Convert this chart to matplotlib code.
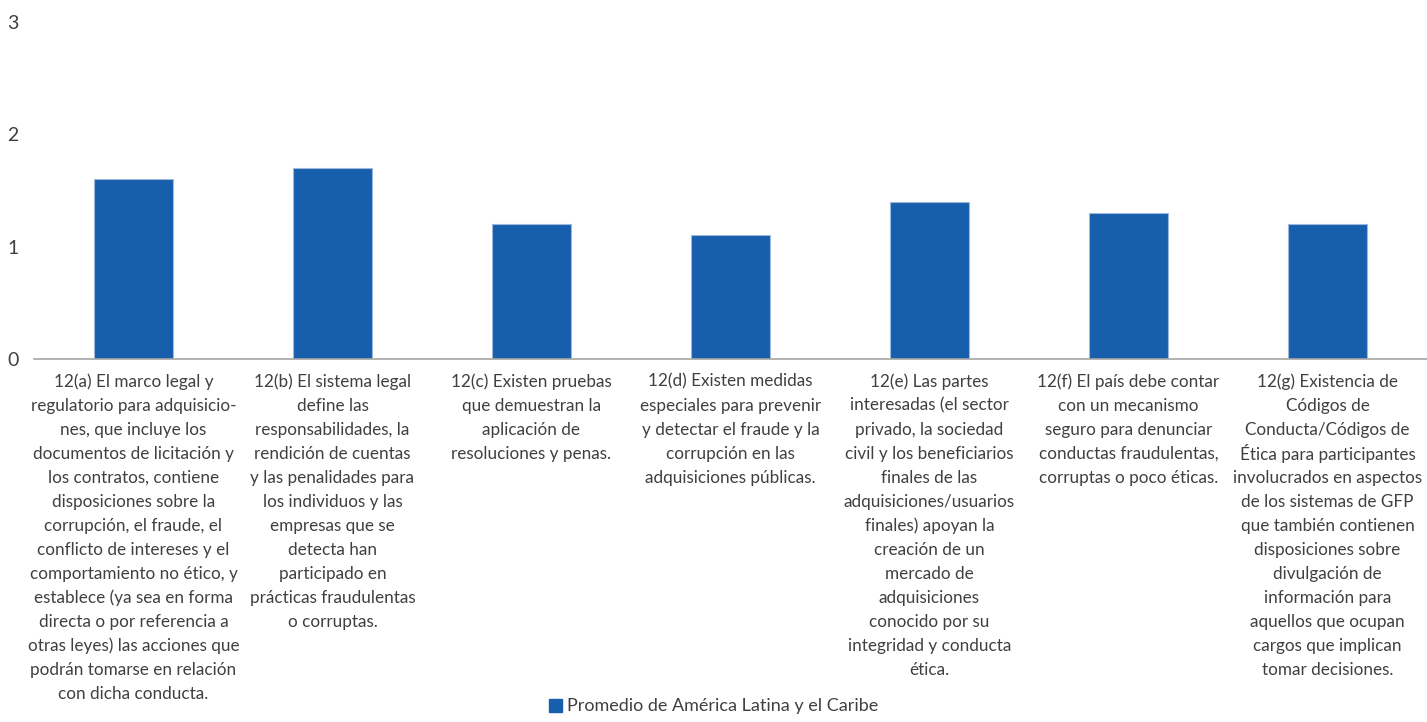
import matplotlib.pyplot as plt
from matplotlib.patches import Patch

plt.rcParams['font.family'] = ['Lato', 'DejaVu Sans']

# category labels (already wrapped like the original)
labels = [
    "12(a) El marco legal y\nregulatorio para adquisicio-\nnes, que incluye los\ndocumentos de licitación y\nlos contratos, contiene\ndisposiciones sobre la\ncorrupción, el fraude, el\nconflicto de intereses y el\ncomportamiento no ético, y\nestablece (ya sea en forma\ndirecta o por referencia a\notras leyes) las acciones que\npodrán tomarse en relación\ncon dicha conducta.",
    "12(b) El sistema legal\ndefine las\nresponsabilidades, la\nrendición de cuentas\ny las penalidades para\nlos individuos y las\nempresas que se\ndetecta han\nparticipado en\nprácticas fraudulentas\no corruptas.",
    "12(c) Existen pruebas\nque demuestran la\naplicación de\nresoluciones y penas.",
    "12(d) Existen medidas\nespeciales para prevenir\ny detectar el fraude y la\ncorrupción en las\nadquisiciones públicas.",
    "12(e) Las partes\ninteresadas (el sector\nprivado, la sociedad\ncivil y los beneficiarios\nfinales de las\nadquisiciones/usuarios\nfinales) apoyan la\ncreación de un\nmercado de\nadquisiciones\nconocido por su\nintegridad y conducta\nética.",
    "12(f) El país debe contar\ncon un mecanismo\nseguro para denunciar\nconductas fraudulentas,\ncorruptas o poco éticas.",
    "12(g) Existencia de\nCódigos de\nConducta/Códigos de\nÉtica para participantes\ninvolucrados en aspectos\nde los sistemas de GFP\nque también contienen\ndisposiciones sobre\ndivulgación de\ninformación para\naquellos que ocupan\ncargos que implican\ntomar decisiones.",
]
promedio = [1.6, 1.7, 1.2, 1.1, 1.4, 1.3, 1.2]

blue = '#175FAD'
txt = '#404040'

fig = plt.figure(figsize=(14.27, 7.22), dpi=100)
ax = fig.add_axes([0.0238, 0.503, 0.9762, 0.4665])

x = range(len(promedio))
ax.bar(x, promedio, width=0.4, color=blue, edgecolor='#9DB8DA', linewidth=0.8)

ax.set_xlim(-0.5, len(promedio) - 0.5)
ax.set_ylim(0, 3)
ax.set_yticks([0, 1, 2, 3])
ax.tick_params(axis='y', length=0, labelsize=14, labelcolor=txt, pad=11)
ax.set_xticks([])
for s in ['top', 'right', 'left']:
    ax.spines[s].set_visible(False)
ax.spines['bottom'].set_color('#A6A6A6')
ax.spines['bottom'].set_linewidth(1.2)

# one text per line so the line pitch stays fixed (24 px)
for i, lab in enumerate(labels):
    for j, line in enumerate(lab.split('\n')):
        ax.annotate(line, xy=(i, 0), xycoords=('data', 'axes fraction'),
                    xytext=(0, -23 - 24 * j), textcoords='offset pixels',
                    ha='center', va='center', fontsize=12.3, color=txt)

fig.legend(handles=[Patch(color=blue, label='Promedio de América Latina y el Caribe')],
           loc='lower center', bbox_to_anchor=(0.5, -0.012), frameon=False,
           fontsize=13, labelcolor=txt, handlelength=0.75, handleheight=0.75,
           handletextpad=0.25)

fig.savefig('out.png', dpi=100)
